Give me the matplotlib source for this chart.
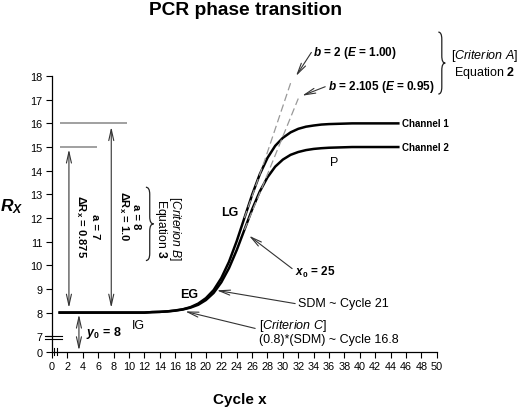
import matplotlib
matplotlib.use("Agg")
import matplotlib.pyplot as plt
from matplotlib.path import Path
from matplotlib.patches import PathPatch

plt.rcParams["font.family"] = "Liberation Sans"
plt.rcParams["mathtext.fontset"] = "custom"
plt.rcParams["mathtext.rm"] = "Liberation Sans"
plt.rcParams["mathtext.it"] = "Liberation Sans:italic"
plt.rcParams["mathtext.bf"] = "Liberation Sans:bold"
plt.rcParams["mathtext.bfit"] = "Liberation Sans:italic:bold"

# values
cycles = list(range(1, 46))
channel1 = [8.00, 8.00, 8.00, 8.00, 8.00, 8.00, 8.00, 8.00, 8.00, 8.00,
            8.00, 8.00, 8.02, 8.03, 8.05, 8.09, 8.14, 8.23, 8.38, 8.61,
            8.95, 9.46, 10.15, 11.02, 12.00, 12.98, 13.85, 14.54, 15.05, 15.39,
            15.62, 15.77, 15.86, 15.91, 15.95, 15.97, 15.98, 15.99, 16.00, 16.00,
            16.00, 16.00, 16.00, 16.00, 16.00]
channel2 = [8.00, 8.00, 8.00, 8.00, 8.00, 8.00, 8.00, 8.00, 8.00, 8.00,
            8.00, 8.00, 8.02, 8.03, 8.05, 8.08, 8.13, 8.21, 8.33, 8.53,
            8.83, 9.28, 9.88, 10.64, 11.50, 12.36, 13.12, 13.72, 14.17, 14.47,
            14.67, 14.79, 14.87, 14.92, 14.95, 14.97, 14.98, 14.99, 15.00, 15.00,
            15.00, 15.00, 15.00, 15.00, 15.00]
exp_e100_x = [25, 27.6, 31.0]
exp_e100_y = [12.0, 14.4, 17.7]
exp_e095_x = [25, 27.5, 32.0]
exp_e095_y = [11.5, 13.45, 17.05]
plateau_levels = [16, 15]
plateau_ends = [9.7, 5.8]

x_ticks = list(range(0, 51, 2))
y_tick_values = [0, 7, 8, 9, 10, 11, 12, 13, 14, 15, 16, 17, 18]
ZERO_POS = 6.35  # where "0" sits below the axis break


def ypos(v):
    return ZERO_POS if v == 0 else v


def brace(ax, x, y0, y1, w, r):
    ym = (y0 + y1) / 2.0
    xm = x + w / 2.0
    verts = [(x, y1), (xm, y1), (xm, y1 - r), (xm, ym + r), (xm, ym), (x + w, ym),
             (xm, ym), (xm, ym - r), (xm, y0 + r), (xm, y0), (x, y0)]
    codes = [Path.MOVETO, Path.CURVE3, Path.CURVE3, Path.LINETO, Path.CURVE3, Path.CURVE3,
             Path.CURVE3, Path.CURVE3, Path.LINETO, Path.CURVE3, Path.CURVE3]
    ax.add_patch(PathPatch(Path(verts, codes), fc="none", ec="#222222", lw=0.9, clip_on=False))


def arrow(ax, tip, tail, style="->"):
    ax.annotate("", xy=tip, xytext=tail, annotation_clip=False,
                arrowprops=dict(arrowstyle=style + ",head_length=0.8,head_width=0.18",
                                color="#333333", lw=0.8, mutation_scale=10,
                                shrinkA=0, shrinkB=0))


fig = plt.figure(figsize=(5.2, 4.1), dpi=100)
ax = fig.add_axes([0.1, 0.14, 0.74, 0.672])

ax.plot(cycles, channel1, color="black", lw=1.8)
ax.plot(cycles, channel2, color="black", lw=1.8)
ax.plot(exp_e100_x, exp_e100_y, color="#999999", lw=0.9, ls=(0, (6, 3)))
ax.plot(exp_e095_x, exp_e095_y, color="#999999", lw=0.9, ls=(0, (6, 3)))
ax.hlines(plateau_levels, 1, plateau_ends, color="#999999", lw=1.3)

ax.set_xlim(0, 50)
ax.set_ylim(ZERO_POS, 18)
ax.set_xticks(x_ticks)
ax.set_yticks([ypos(v) for v in y_tick_values])
ax.set_yticklabels([str(v) for v in y_tick_values])
ax.tick_params(direction="out", length=4, width=0.8, labelsize=7.8, pad=3)
for s in ["top", "right"]:
    ax.spines[s].set_visible(False)
for s in ["left", "bottom"]:
    ax.spines[s].set_linewidth(0.9)

# axis break marks
for yb in [7.0, 6.87]:
    ax.plot([-0.91, 1.26], [yb, yb], color="black", lw=0.8, clip_on=False)
for xb in [0.26, 0.69]:
    ax.plot([xb, xb], [6.52, 6.2], color="black", lw=0.8, clip_on=False)

ax.set_xlabel("Cycle x", fontsize=11, fontweight="bold", va="center")
ax.xaxis.set_label_coords(0.489, -0.172)
ax.set_ylabel(r"$\mathbfit{R}_\mathbfit{X}$", fontsize=12.5, rotation=0, va="center", ha="center")
ax.yaxis.set_label_coords(-0.104, 0.528)
fig.suptitle("PCR phase transition", x=0.473, y=0.974, va="center",
             fontsize=13.8, fontweight="bold")

# criterion B: vertical arrows and brace
arrow(ax, (2.2, 14.9), (2.2, 8.2), "<->")
arrow(ax, (7.7, 15.85), (7.7, 8.2), "<->")
ax.text(4.5, 11.68, "a = 7\nΔR$_{\\mathbf{x}}$ = 0.875", rotation=270, fontsize=8,
        fontweight="bold", ha="center", va="center", multialignment="center")
ax.text(10.0, 12.1, "a = 8\nΔR$_{\\mathbf{x}}$ = 1.0", rotation=270, fontsize=8,
        fontweight="bold", ha="center", va="center", multialignment="center",
        linespacing=1.0)
brace(ax, 12.2, 10.2, 13.3, 1.0, 0.3)
ax.text(15.1, 11.6, "[$\\mathit{Criterion\\ B}$]\nEquation $\\mathbf{3}$", rotation=270,
        fontsize=8.7, ha="center", va="center", multialignment="center", linespacing=0.85)

# y0 baseline
arrow(ax, (3.5, 7.92), (3.5, 6.4), "<->")
ax.text(4.4, 7.19, r"$\mathbfit{y}_\mathbf{0}$ = 8", fontsize=9, fontweight="bold",
        ha="left", va="center")

# phase labels
ax.text(11.2, 7.49, "IG", fontsize=9, ha="center", va="center")
ax.text(17.8, 8.8, "EG", fontsize=9, fontweight="bold", ha="center", va="center")
ax.text(23.05, 12.26, "LG", fontsize=9, fontweight="bold", ha="center", va="center")
ax.text(36.7, 14.37, "P", fontsize=9, ha="center", va="center")
ax.text(45.5, 16.0, "Channel 1", fontsize=7, fontweight="bold", ha="left", va="center")
ax.text(45.5, 15.0, "Channel 2", fontsize=7, fontweight="bold", ha="left", va="center")

# pointers to the curves
arrow(ax, (25.6, 11.25), (31.2, 9.86))
ax.text(31.6, 9.73, r"$\mathbfit{x}_\mathbf{0}$ = 25", fontsize=8.5, fontweight="bold",
        ha="left", va="center")
arrow(ax, (21.4, 8.94), (31.6, 8.38))
ax.text(32.0, 8.42, "SDM ~ Cycle 21", fontsize=9, ha="left", va="center")
arrow(ax, (17.3, 8.05), (26.4, 7.33))
ax.text(26.85, 7.22, "[$\\mathit{Criterion\\ C}$]\n(0.8)*(SDM) ~ Cycle 16.8", fontsize=9,
        ha="left", va="center", linespacing=1.1)

# criterion A: exponential extrapolations
arrow(ax, (31.7, 18.0), (33.7, 19.0))
ax.text(33.9, 19.0, r"$\mathbfit{b}$ = 2 ($\mathbfit{E}$ = 1.00)", fontsize=8.5,
        fontweight="bold", ha="left", va="center")
arrow(ax, (32.5, 17.17), (35.5, 17.55))
ax.text(35.8, 17.58, r"$\mathbfit{b}$ = 2.105 ($\mathbfit{E}$ = 0.95)", fontsize=8.5,
        fontweight="bold", ha="left", va="center")
brace(ax, 50.2, 17.24, 19.86, 0.9, 0.3)
ax.text(56.2, 18.55, "[$\\mathit{Criterion\\ A}$]\nEquation $\\mathbf{2}$", fontsize=9,
        ha="center", va="center", multialignment="center", linespacing=1.1)

fig.savefig("out.png", dpi=100)
